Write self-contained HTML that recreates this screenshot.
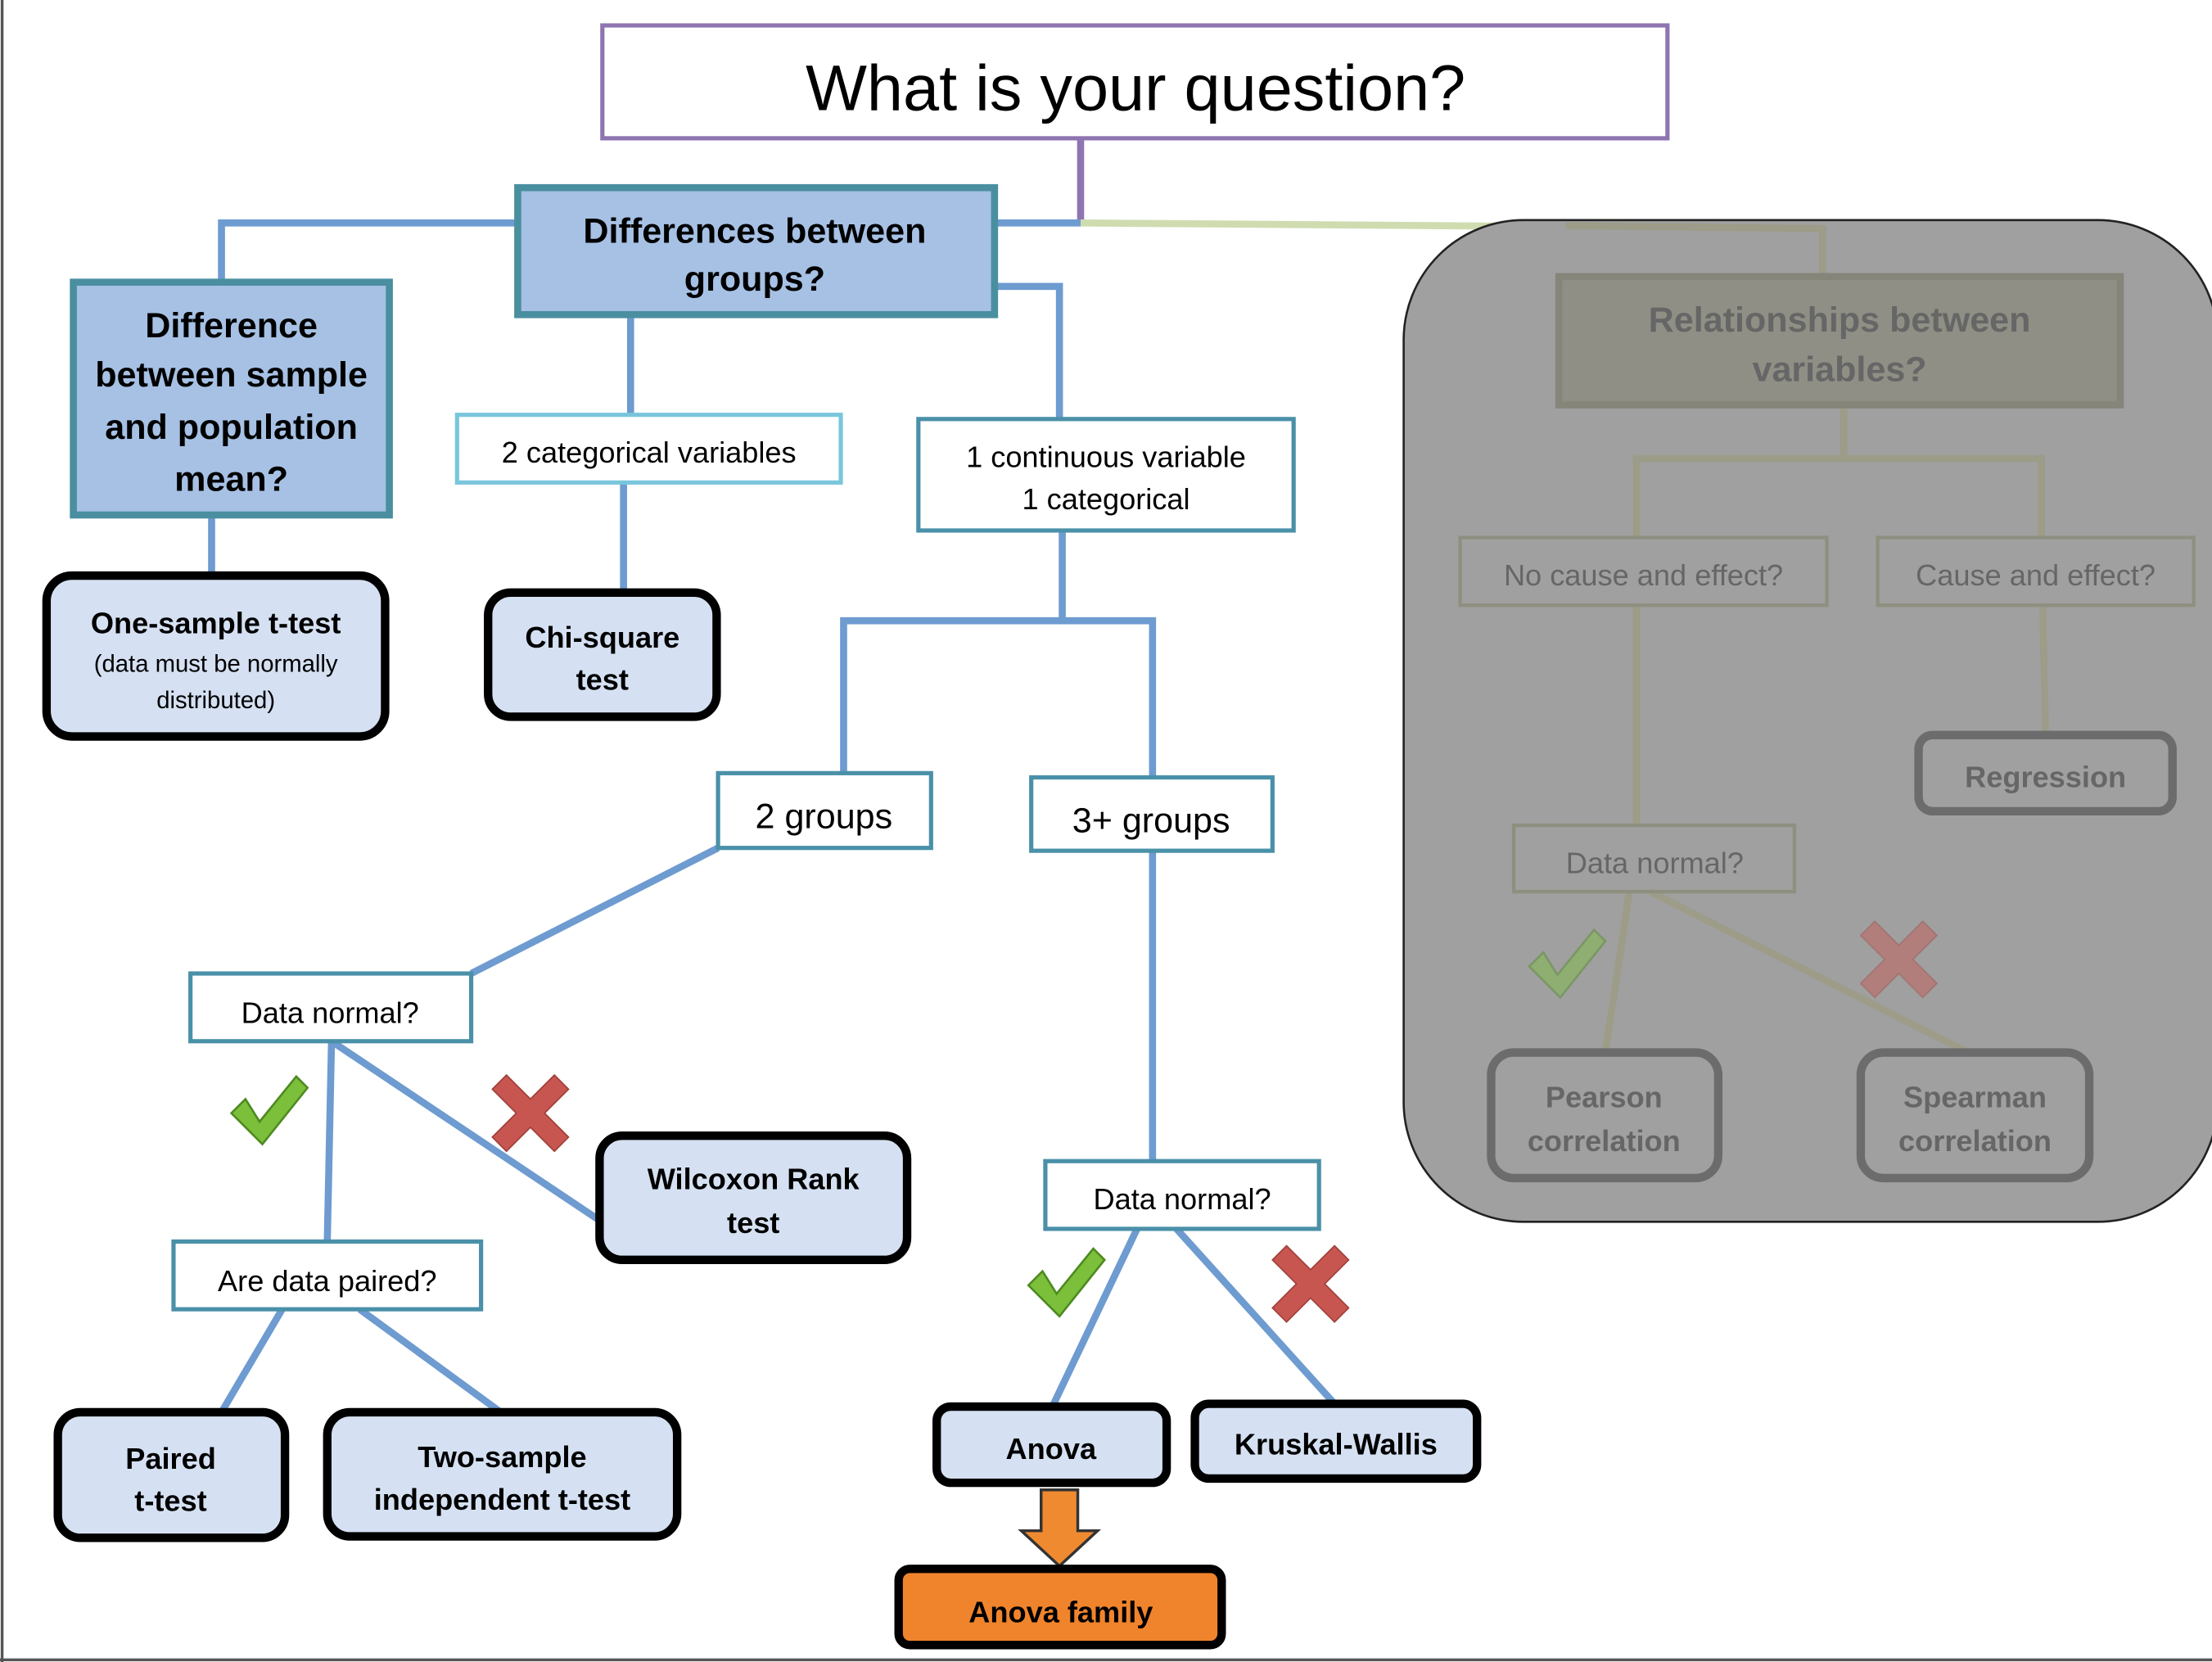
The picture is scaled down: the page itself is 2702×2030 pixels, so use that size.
<!DOCTYPE html>
<html><head><meta charset="utf-8"><style>
html,body{margin:0;padding:0;background:#fff;width:2702px;height:2030px;overflow:hidden}
svg{display:block}
text{font-family:"Liberation Sans",sans-serif;text-anchor:middle}
.b{font-weight:bold}
</style></head><body>
<svg width="2702" height="2030" viewBox="0 0 1568 1178" xmlns="http://www.w3.org/2000/svg">
<rect x="0" y="0" width="1568" height="1178" fill="#fff"/>
<line x1="1.5" y1="0" x2="1.5" y2="1178" stroke="#555" stroke-width="2"/>
<line x1="0" y1="1176.5" x2="1568" y2="1176.5" stroke="#555" stroke-width="2"/>

<rect x="427" y="18" width="755" height="80" fill="#fff" stroke="#8e74b0" stroke-width="3"/>
<text x="805" y="78" font-size="46">What is your question?</text>
<line x1="766" y1="98" x2="766" y2="158" stroke="#8e74b0" stroke-width="5"/>
<line x1="766" y1="158" x2="1292" y2="162" stroke="#cfdcb0" stroke-width="5"/>

<g stroke="#6e9bd0" stroke-width="5" fill="none">
<polyline points="766,158 706,158"/>
<polyline points="367,158 157,158 157,200"/>
<line x1="150" y1="365" x2="150" y2="408"/>
<line x1="447" y1="223" x2="447" y2="294"/>
<line x1="442" y1="342" x2="442" y2="420"/>
<polyline points="706,203 751,203 751,297"/>
<line x1="753" y1="376" x2="753" y2="440"/>
<polyline points="598,548 598,440 817,440 817,551"/>
<line x1="509" y1="601" x2="334" y2="690"/>
<line x1="235" y1="738" x2="232" y2="880"/>
<line x1="235" y1="738" x2="425" y2="865"/>
<line x1="200" y1="928" x2="157" y2="1001"/>
<line x1="255" y1="928" x2="355" y2="1001"/>
<line x1="817" y1="603" x2="817" y2="823"/>
<line x1="806" y1="871" x2="746" y2="997"/>
<line x1="834" y1="871" x2="946" y2="995"/>
</g>

<rect x="367" y="133" width="338" height="90" fill="#a6c1e4" stroke="#4a8fa0" stroke-width="5"/>
<text class="b" x="535" y="172" font-size="25">Differences between</text>
<text class="b" x="535" y="206" font-size="25">groups?</text>
<rect x="52" y="200" width="224" height="165" fill="#a6c1e4" stroke="#4a8fa0" stroke-width="5"/>
<text class="b" x="164" y="239" font-size="25">Difference</text>
<text class="b" x="164" y="274" font-size="25">between sample</text>
<text class="b" x="164" y="311" font-size="25">and population</text>
<text class="b" x="164" y="348" font-size="25">mean?</text>

<g fill="#fff" stroke-width="3">
<rect x="324" y="294" width="272" height="48" stroke="#79c6dc"/>
<rect x="651" y="297" width="266" height="79" stroke="#4a90a8"/>
<rect x="509" y="548" width="151" height="53" stroke="#4a90a8"/>
<rect x="731" y="551" width="171" height="52" stroke="#4a90a8"/>
<rect x="135" y="690" width="199" height="48" stroke="#4a90a8"/>
<rect x="123" y="880" width="218" height="48" stroke="#4a90a8"/>
<rect x="741" y="823" width="194" height="48" stroke="#4a90a8"/>
</g>
<g font-size="21">
<text x="460" y="328">2 categorical variables</text>
<text x="784" y="331">1 continuous variable</text>
<text x="784" y="361">1 categorical</text>
<text x="584" y="587" font-size="25">2 groups</text>
<text x="816" y="590" font-size="25">3+ groups</text>
<text x="234" y="725">Data normal?</text>
<text x="232" y="915">Are data paired?</text>
<text x="838" y="857">Data normal?</text>
</g>

<g fill="#d5e1f2" stroke="#000" stroke-width="6">
<rect x="33" y="408" width="240" height="114" rx="18"/>
<rect x="346" y="420" width="162" height="88" rx="16"/>
<rect x="425" y="805" width="218" height="88" rx="16"/>
<rect x="41" y="1001" width="161" height="89" rx="16"/>
<rect x="232" y="1001" width="248" height="88" rx="16"/>
<rect x="664" y="997" width="163" height="54" rx="10"/>
<rect x="847" y="995" width="200" height="53" rx="10"/>
</g>
<g font-size="21">
<text class="b" x="153" y="449">One-sample t-test</text>
<text x="153" y="476" font-size="17">(data must be normally</text>
<text x="153" y="502" font-size="17">distributed)</text>
<text class="b" x="427" y="459">Chi-square</text>
<text class="b" x="427" y="489">test</text>
<text class="b" x="534" y="843">Wilcoxon Rank</text>
<text class="b" x="534" y="874">test</text>
<text class="b" x="121" y="1041">Paired</text>
<text class="b" x="121" y="1071">t-test</text>
<text class="b" x="356" y="1040">Two-sample</text>
<text class="b" x="356" y="1070">independent t-test</text>
<text class="b" x="745" y="1034">Anova</text>
<text class="b" x="947" y="1031">Kruskal-Wallis</text>
</g>

<polygon points="738,1056 764,1056 764,1085 778,1085 751,1110 724,1085 738,1085" fill="#f08a30" stroke="#333" stroke-width="2"/>
<rect x="637" y="1112" width="229" height="54" rx="8" fill="#f0842c" stroke="#000" stroke-width="6"/>
<text class="b" x="752" y="1150" font-size="21">Anova family</text>

<defs>
<g id="chk"><path d="M-26,2 L-16,-8 L-6,8 L20,-24 L28,-16 L-4,24 Z" fill="#7bbf3a" stroke="#4d8a20" stroke-width="1.5"/></g>
<g id="x"><path d="M-27,-17 L-17,-27 L0,-10 L17,-27 L27,-17 L10,0 L27,17 L17,27 L0,10 L-17,27 L-27,17 L-10,0 Z" fill="#c85650" stroke="#a0403a" stroke-width="1"/></g>
</defs>
<use href="#chk" x="190" y="787"/>
<use href="#x" x="376" y="789"/>
<use href="#chk" x="755" y="909"/>
<use href="#x" x="929" y="910"/>

<rect x="995" y="156" width="577" height="710" rx="85" fill="#a0a0a0" stroke="#222" stroke-width="1.5"/>
<g stroke="#9c9c88" stroke-width="5" fill="none">
<line x1="1292" y1="160" x2="1292" y2="196"/>
<line x1="1110" y1="160" x2="1292" y2="162"/>
<line x1="1307" y1="287" x2="1307" y2="325"/>
<polyline points="1160,381 1160,325 1447,325 1447,381"/>
<line x1="1160" y1="429" x2="1160" y2="585"/>
<line x1="1448" y1="429" x2="1450" y2="521"/>
<line x1="1155" y1="632" x2="1138" y2="746"/>
<line x1="1170" y1="632" x2="1395" y2="746"/>
</g>
<rect x="1105" y="196" width="398" height="91" fill="#8f8f85" stroke="#85857a" stroke-width="5"/>
<g fill="none" stroke="#8f8f80" stroke-width="2.5">
<rect x="1035" y="381" width="260" height="48"/>
<rect x="1331" y="381" width="224" height="48"/>
<rect x="1073" y="585" width="199" height="47"/>
</g>
<g fill="#a0a0a0" stroke="#6c6c6c" stroke-width="6">
<rect x="1360" y="521" width="180" height="54" rx="10"/>
<rect x="1057" y="746" width="161" height="89" rx="16"/>
<rect x="1319" y="746" width="162" height="89" rx="16"/>
</g>
<g fill="#666">
<text class="b" x="1304" y="235" font-size="25">Relationships between</text>
<text class="b" x="1304" y="270" font-size="25">variables?</text>
<text x="1165" y="415" font-size="21">No cause and effect?</text>
<text x="1443" y="415" font-size="21">Cause and effect?</text>
<text x="1173" y="619" font-size="21">Data normal?</text>
<text class="b" x="1450" y="558" font-size="21">Regression</text>
<text class="b" x="1137" y="785" font-size="21">Pearson</text>
<text class="b" x="1137" y="816" font-size="21">correlation</text>
<text class="b" x="1400" y="785" font-size="21">Spearman</text>
<text class="b" x="1400" y="816" font-size="21">correlation</text>
</g>
<g opacity="0.45">
<use href="#chk" x="1110" y="683"/>
<use href="#x" x="1346" y="680"/>
</g>
</svg>
</body></html>
